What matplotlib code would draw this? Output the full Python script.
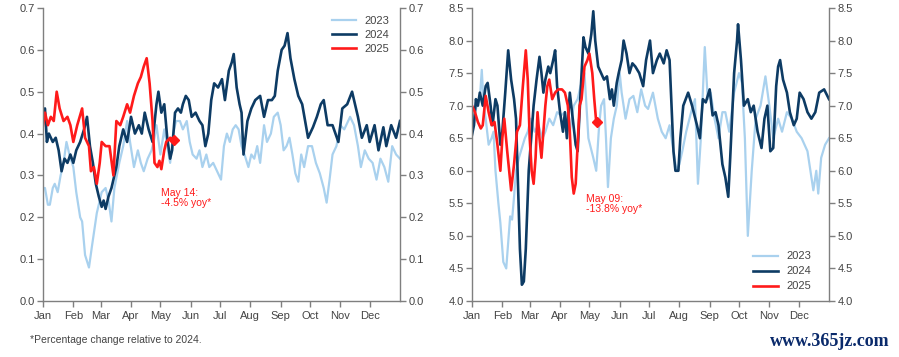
import matplotlib
matplotlib.use("Agg")
import matplotlib.pyplot as plt

plt.rcParams['font.family'] = ['Liberation Sans', 'DejaVu Sans']

# ---------------- data (day of year, value) ----------------
month_ticks = [0, 31, 59, 90, 120, 151, 181, 212, 243, 273, 304, 334]
month_labels = ["Jan", "Feb", "Mar", "Apr", "May", "Jun", "Jul", "Aug", "Sep", "Oct", "Nov", "Dec"]

# Left panel
l23_day = [0, 2, 5, 7, 10, 12, 15, 18, 21, 24, 27, 31, 34, 38, 40, 43, 47, 50, 55, 58, 60, 64, 67, 70, 73, 78, 82, 86, 89, 93,
           97, 100, 103, 107, 111, 114, 116, 120, 124, 127, 130, 133, 136, 140, 143, 147, 150, 153, 157, 160, 163, 167, 170,
           174, 178, 182, 185, 188, 191, 194, 197, 200, 203, 206, 210, 213, 216, 219, 222, 226, 229, 233, 236, 240, 243, 246,
           249, 252, 255, 258, 261, 264, 267, 271, 275, 279, 283, 287, 290, 293, 296, 300, 304, 308, 314, 318, 322, 325, 329,
           333, 337, 341, 345, 349, 353, 357, 361, 365]
l23_val = [0.27, 0.27, 0.23, 0.23, 0.27, 0.28, 0.26, 0.30, 0.33, 0.38, 0.35, 0.32, 0.26, 0.20, 0.19, 0.11, 0.08, 0.13, 0.21,
           0.24, 0.26, 0.27, 0.24, 0.19, 0.27, 0.33, 0.37, 0.43, 0.38, 0.32, 0.36, 0.33, 0.31, 0.34, 0.36, 0.39, 0.42, 0.35,
           0.41, 0.37, 0.33, 0.40, 0.43, 0.43, 0.41, 0.43, 0.38, 0.35, 0.34, 0.36, 0.32, 0.35, 0.32, 0.33, 0.31, 0.29, 0.37,
           0.40, 0.38, 0.41, 0.42, 0.41, 0.37, 0.35, 0.32, 0.35, 0.34, 0.37, 0.33, 0.42, 0.38, 0.40, 0.44, 0.45, 0.42, 0.36,
           0.37, 0.39, 0.35, 0.305, 0.285, 0.35, 0.32, 0.37, 0.37, 0.33, 0.305, 0.27, 0.235, 0.29, 0.35, 0.37, 0.42, 0.41,
           0.44, 0.42, 0.37, 0.32, 0.36, 0.34, 0.33, 0.29, 0.34, 0.32, 0.285, 0.37, 0.35, 0.34]

l24_day = [0, 2, 4, 6, 8, 10, 13, 16, 19, 22, 25, 28, 31, 34, 38, 42, 45, 48, 51, 54, 57, 60, 62, 64, 67, 70, 73, 75, 78, 82,
           86, 90, 94, 98, 101, 104, 108, 112, 116, 118, 121, 124, 127, 130, 132, 135, 138, 141, 143, 146, 149, 152, 156,
           160, 163, 166, 169, 172, 175, 179, 183, 186, 190, 193, 195, 198, 201, 203, 205, 209, 213, 217, 222, 226, 230, 234,
           237, 240, 244, 247, 250, 253, 257, 261, 265, 268, 271, 276, 280, 284, 287, 291, 296, 302, 306, 311, 316, 319, 322,
           326, 331, 334, 339, 343, 348, 351, 356, 361, 365]
l24_val = [0.45, 0.46, 0.38, 0.40, 0.39, 0.38, 0.39, 0.36, 0.31, 0.34, 0.33, 0.35, 0.33, 0.36, 0.38, 0.41, 0.44, 0.37, 0.33,
           0.28, 0.25, 0.225, 0.24, 0.22, 0.25, 0.27, 0.30, 0.32, 0.37, 0.41, 0.38, 0.44, 0.40, 0.42, 0.40, 0.45, 0.41, 0.38,
           0.47, 0.50, 0.45, 0.47, 0.39, 0.34, 0.36, 0.45, 0.46, 0.45, 0.47, 0.49, 0.48, 0.44, 0.45, 0.43, 0.42, 0.37, 0.40,
           0.48, 0.52, 0.51, 0.53, 0.48, 0.55, 0.57, 0.59, 0.51, 0.47, 0.45, 0.35, 0.43, 0.46, 0.48, 0.49, 0.44, 0.48, 0.48,
           0.49, 0.55, 0.60, 0.61, 0.64, 0.58, 0.53, 0.49, 0.47, 0.43, 0.39, 0.415, 0.44, 0.47, 0.48, 0.42, 0.42, 0.38, 0.46,
           0.47, 0.50, 0.47, 0.44, 0.39, 0.42, 0.38, 0.42, 0.36, 0.415, 0.37, 0.42, 0.39, 0.43]

l25_day = [0, 2, 5, 8, 11, 14, 17, 21, 25, 28, 31, 35, 40, 43, 47, 49, 52, 55, 58, 60, 64, 68, 72, 75, 79, 82, 86, 89, 93, 97,
           100, 103, 106, 109, 112, 114, 117, 119, 121, 124, 126, 130, 134]
l25_val = [0.42, 0.45, 0.42, 0.44, 0.43, 0.50, 0.46, 0.43, 0.44, 0.42, 0.38, 0.42, 0.46, 0.39, 0.37, 0.31, 0.32, 0.28, 0.33,
           0.38, 0.37, 0.37, 0.30, 0.43, 0.42, 0.44, 0.47, 0.45, 0.49, 0.52, 0.535, 0.56, 0.58, 0.52, 0.43, 0.33, 0.32, 0.335,
           0.315, 0.36, 0.38, 0.39, 0.385]

# Right panel
r23_day = [0, 3, 5, 8, 10, 12, 14, 17, 20, 22, 24, 27, 29, 32, 35, 37, 39, 41, 43, 45, 48, 50, 54, 57, 60, 64, 68, 72, 75, 79,
           83, 87, 91, 95, 100, 104, 108, 111, 115, 119, 124, 127, 130, 132, 135, 137, 139, 142, 145, 148, 151, 153, 157, 161,
           165, 169, 173, 177, 180, 185, 190, 194, 198, 202, 206, 209, 212, 215, 219, 224, 228, 231, 234, 238, 241, 244, 248,
           252, 256, 259, 263, 268, 273, 276, 279, 282, 286, 290, 295, 300, 304, 308, 313, 317, 322, 327, 332, 337, 343, 349,
           352, 354, 357, 361, 365]
r23_val = [6.7, 6.9, 7.0, 7.1, 7.55, 7.0, 6.8, 6.4, 6.5, 6.6, 6.0, 5.5, 5.2, 4.6, 4.5, 4.9, 5.3, 5.25, 5.6, 6.0, 6.2, 6.3, 6.5,
           6.6, 6.8, 6.6, 6.7, 6.5, 6.6, 6.8, 6.7, 6.9, 6.85, 6.9, 6.6, 7.0, 7.1, 7.3, 7.5, 6.5, 6.2, 6.0, 6.7, 7.0, 7.1, 6.5,
           5.75, 6.5, 6.8, 7.0, 7.5, 7.2, 6.8, 7.1, 7.15, 6.9, 7.25, 7.0, 6.95, 7.2, 6.8, 6.6, 6.5, 6.7, 6.3, 6.0, 6.1, 6.3,
           6.6, 6.9, 7.1, 5.8, 6.5, 7.9, 7.1, 7.2, 6.8, 6.5, 6.9, 6.9, 6.6, 7.2, 7.5, 7.35, 6.5, 5.0, 6.0, 6.8, 7.0, 7.45,
           7.0, 6.5, 6.8, 6.6, 6.9, 6.8, 6.6, 6.5, 6.3, 5.7, 6.0, 5.65, 6.2, 6.4, 6.5]

r24_day = [0, 2, 4, 6, 8, 11, 14, 16, 19, 21, 24, 26, 29, 31, 34, 37, 40, 43, 45, 47, 49, 51, 53, 55, 58, 61, 63, 66, 69, 71,
           73, 75, 78, 80, 83, 85, 87, 90, 93, 95, 97, 100, 103, 106, 108, 111, 114, 116, 119, 122, 124, 126, 129, 132, 135,
           138, 141, 143, 145, 148, 150, 153, 155, 158, 161, 164, 167, 171, 175, 178, 182, 185, 189, 192, 196, 199, 202, 204,
           206, 208, 211, 213, 216, 221, 225, 230, 233, 236, 239, 243, 246, 249, 252, 256, 259, 262, 264, 268, 271, 272, 275,
           278, 282, 285, 288, 292, 296, 299, 302, 305, 308, 311, 313, 315, 318, 322, 325, 329, 332, 335, 339, 343, 347, 351,
           355, 360, 365]
r24_val = [6.55, 6.7, 7.1, 7.0, 7.2, 7.0, 7.3, 7.35, 7.0, 6.7, 7.1, 7.0, 6.4, 6.6, 7.2, 7.85, 7.4, 7.1, 6.8, 5.8, 4.8, 4.25,
           4.3, 4.8, 6.0, 6.6, 7.0, 7.4, 7.75, 7.5, 7.2, 7.4, 7.6, 7.5, 7.7, 7.85, 7.3, 6.9, 6.6, 6.9, 6.5, 7.2, 6.8, 6.4, 6.3,
           7.2, 8.05, 7.9, 7.8, 8.1, 8.45, 8.0, 7.6, 7.5, 7.4, 7.45, 7.1, 7.25, 7.0, 7.35, 7.5, 7.7, 8.0, 7.8, 7.5, 7.65, 7.6,
           7.5, 7.3, 7.7, 8.0, 7.5, 7.7, 7.8, 7.65, 7.85, 7.7, 7.0, 6.3, 6.0, 6.0, 6.5, 7.0, 7.2, 7.0, 6.7, 6.5, 7.1, 7.05,
           7.25, 6.85, 6.9, 6.7, 6.1, 5.9, 5.6, 6.2, 7.5, 8.0, 8.25, 7.7, 7.0, 7.1, 6.9, 7.0, 6.6, 6.35, 6.8, 7.0, 6.3, 6.35,
           7.3, 7.6, 7.7, 7.4, 7.2, 6.9, 6.7, 6.8, 7.2, 7.1, 6.9, 6.8, 6.9, 7.2, 7.25, 7.1]

r25_day = [0, 3, 6, 9, 11, 14, 17, 20, 23, 26, 29, 31, 33, 36, 38, 40, 43, 46, 49, 52, 55, 57, 59, 61, 63, 65, 67, 69, 71, 73,
           75, 77, 79, 82, 85, 88, 92, 95, 98, 100, 102, 104, 106, 108, 110, 112, 115, 118, 120, 123, 125, 127, 128]
r25_val = [7.0, 6.9, 6.75, 6.65, 6.7, 7.15, 6.9, 6.7, 6.75, 6.4, 6.0, 6.5, 6.8, 6.3, 6.0, 5.7, 6.1, 6.6, 6.7, 7.3, 7.85, 7.4,
           6.5, 6.0, 5.8, 6.2, 6.9, 6.5, 6.2, 6.6, 7.0, 7.3, 7.4, 7.1, 7.2, 7.25, 7.25, 7.2, 7.0, 6.6, 5.9, 5.65, 5.8, 6.4, 7.0,
           7.1, 7.6, 7.7, 7.8, 7.5, 7.1, 6.75, 6.75]

years = ["2023", "2024", "2025"]
notes = ["May 14:\n-4.5% yoy*", "May 09:\n-13.8% yoy*"]
footnote = "*Percentage change relative to 2024."

# ---------------- style ----------------
C23 = "#a9d1ee"
C24 = "#0d3b64"
C25 = "#ff1a1a"
GRID = "#7f7f7f"
TXT = "#444444"

fig = plt.figure(figsize=(8.99, 3.57), dpi=100)
axL = fig.add_axes([43 / 899, 1 - 301 / 357, 357 / 899, 293 / 357])
axR = fig.add_axes([472 / 899, 1 - 301 / 357, 357 / 899, 293 / 357])


def style(ax, ylim, yticks, fmt):
    ax.set_xlim(0, 365)
    ax.set_ylim(*ylim)
    ax.set_xticks(month_ticks)
    ax.set_xticklabels(month_labels)
    ax.set_yticks(yticks)
    ax.set_yticklabels([fmt.format(v) for v in yticks])
    ax.spines['top'].set_visible(False)
    for s in ['left', 'right', 'bottom']:
        ax.spines[s].set_color(GRID)
        ax.spines[s].set_linewidth(1.0)
    ax.yaxis.set_ticks_position('both')
    ax.tick_params(axis='y', which='both', direction='out', labelright=True, labelleft=True,
                   length=4, width=1, color=GRID, labelcolor=TXT, labelsize=8, pad=2)
    ax.tick_params(axis='x', direction='out', length=4, width=1, color=GRID, labelcolor=TXT,
                   labelsize=8, pad=3)


# Left panel
axL.plot(l23_day, l23_val, color=C23, lw=1.6, label=years[0])
axL.plot(l24_day, l24_val, color=C24, lw=1.9, label=years[1])
axL.plot(l25_day, l25_val, color=C25, lw=1.9, label=years[2])
axL.plot([l25_day[-1]], [l25_val[-1]], marker='D', color=C25, ms=5)
style(axL, (0, 0.7), [0.0, 0.1, 0.2, 0.3, 0.4, 0.5, 0.6, 0.7], "{:.1f}")
axL.text(121, 0.27, notes[0], color=C25, fontsize=7.5, va='top', ha='left', linespacing=0.95)
axL.legend(loc='upper right', bbox_to_anchor=(0.99, 0.995), frameon=False, fontsize=8,
           handlelength=2.2, labelcolor=TXT, borderaxespad=0.2, labelspacing=0.35)

# Right panel
axR.plot(r23_day, r23_val, color=C23, lw=1.6, label=years[0])
axR.plot(r24_day, r24_val, color=C24, lw=1.9, label=years[1])
axR.plot(r25_day, r25_val, color=C25, lw=1.9, label=years[2])
axR.plot([r25_day[-1]], [r25_val[-1]], marker='D', color=C25, ms=5)
style(axR, (4.0, 8.5), [4.0, 4.5, 5.0, 5.5, 6.0, 6.5, 7.0, 7.5, 8.0, 8.5], "{:.1f}")
axR.text(117, 5.64, notes[1], color=C25, fontsize=7.5, va='top', ha='left', linespacing=0.95)
axR.legend(loc='lower right', bbox_to_anchor=(0.97, 0.01), frameon=False, fontsize=8,
           handlelength=2.2, labelcolor=TXT, borderaxespad=0.2, labelspacing=0.45)

fig.text(30 / 899, 1 - 340 / 357, footnote, color=TXT, fontsize=7.5, va='center', ha='left')
fig.text(890 / 899, 1 - 342 / 357, "www.365jz.com", color="#0a2a6b", fontsize=13, fontweight='bold',
         family=['Liberation Serif', 'DejaVu Serif'], va='center', ha='right')

fig.savefig("out.png", dpi=100)
